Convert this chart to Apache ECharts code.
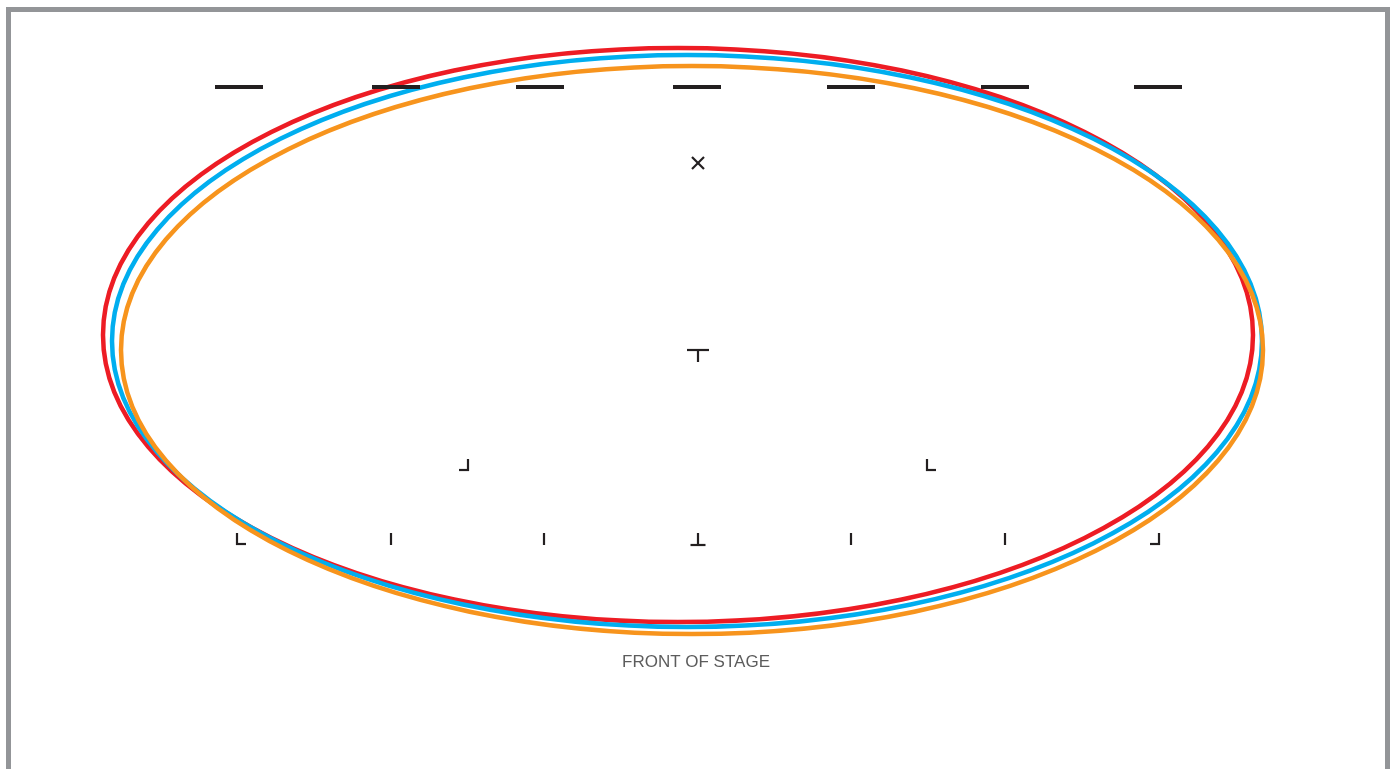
<!DOCTYPE html>
<html>
<head>
<meta charset="utf-8">
<script src="https://cdn.jsdelivr.net/npm/echarts@6/dist/echarts.min.js"></script>
<style>
  html, body { margin: 0; padding: 0; background: #fff; }
  #main { width: 1395px; height: 769px; }
</style>
</head>
<body>
<div id="main"></div>
<script>
// 舞台坐标（x 向右，y 向下）
var ringNames = ['red', 'blue', 'orange'];
var ringColors = ['#ed1c24', '#00aeef', '#f7941d'];
// 椭圆：中心 x, 中心 y, 半径 x, 半径 y
var ringCx = [678, 687, 692];
var ringCy = [335, 341, 350];
var ringRx = [575, 575, 571];
var ringRy = [287, 286, 284];

// 上方横线
var dashX = [239, 396, 540, 697, 851, 1005, 1158];
var dashY = [87, 87, 87, 87, 87, 87, 87];

// 其他标记
var markKinds = ['cross', 'tee', 'cornerR', 'cornerL', 'cornerL', 'tick', 'tick', 'teeUp', 'tick', 'tick', 'cornerR'];
var markX = [698, 698, 464, 931, 241, 391, 544, 698, 851, 1005, 1155];
var markY = [163, 355, 465, 465, 539, 539, 539, 539, 539, 539, 539];

var stageLabel = 'FRONT OF STAGE';
var stageLabelPos = [696, 662];

var myChart = echarts.init(document.getElementById('main'));

var ringData = ringNames.map(function (n, i) {
  return { name: n, value: [ringCx[i], ringCy[i], ringRx[i], ringRy[i]], itemStyle: { color: ringColors[i] } };
});
var dashData = dashX.map(function (x, i) { return ['dash', x, dashY[i]]; });
var markData = dashData.concat(markKinds.map(function (k, i) { return [k, markX[i], markY[i]]; }));

var ink = '#231f20';
function seg(x1, y1, x2, y2, w) {
  return { type: 'line', shape: { x1: x1, y1: y1, x2: x2, y2: y2 }, style: { stroke: ink, lineWidth: w } };
}

myChart.setOption({
  animation: false,
  // 外框
  graphic: [{
    type: 'rect', z: -1,
    shape: { x: 8.5, y: 9.5, width: 1379, height: 800 },
    style: { fill: '#fff', stroke: '#939598', lineWidth: 5 }
  }],
  grid: { left: 0, top: 0, right: 0, bottom: 0 },
  xAxis: { type: 'value', min: 0, max: 1395, show: false },
  yAxis: { type: 'value', min: 0, max: 769, inverse: true, show: false },
  series: [
    {
      type: 'custom',
      data: ringData,
      renderItem: function (params, api) {
        var c = api.coord([api.value(0), api.value(1)]);
        var s = api.size([api.value(2), api.value(3)]);
        return {
          type: 'ellipse',
          shape: { cx: c[0], cy: c[1], rx: s[0], ry: s[1] },
          style: { fill: 'none', stroke: api.visual('color'), lineWidth: 4.5 }
        };
      }
    },
    {
      type: 'custom',
      data: markData,
      encode: { x: 1, y: 2 },
      renderItem: function (params, api) {
        var kind = markData[params.dataIndex][0];
        var p = api.coord([api.value(1), api.value(2)]);
        var x = p[0], y = p[1];
        var ch = [];
        if (kind === 'dash') {
          ch.push(seg(x - 24, y, x + 24, y, 4));
        } else if (kind === 'cross') {
          ch.push(seg(x - 6, y - 6, x + 6, y + 6, 2.2));
          ch.push(seg(x - 6, y + 6, x + 6, y - 6, 2.2));
        } else if (kind === 'tee') {
          ch.push(seg(x - 11, y - 5, x + 11, y - 5, 2.2));
          ch.push(seg(x, y - 5, x, y + 7, 2.2));
        } else if (kind === 'teeUp') {
          ch.push(seg(x - 7.5, y + 6, x + 7.5, y + 6, 2.2));
          ch.push(seg(x, y - 6, x, y + 6, 2.2));
        } else if (kind === 'tick') {
          ch.push(seg(x, y - 6, x, y + 6, 2.2));
        } else if (kind === 'cornerL') {
          ch.push(seg(x - 4, y - 6, x - 4, y + 6, 2.2));
          ch.push(seg(x - 5, y + 5, x + 5, y + 5, 2.2));
        } else if (kind === 'cornerR') {
          ch.push(seg(x + 4, y - 6, x + 4, y + 6, 2.2));
          ch.push(seg(x + 5, y + 5, x - 5, y + 5, 2.2));
        }
        return { type: 'group', children: ch };
      }
    },
    {
      type: 'scatter',
      symbolSize: 0,
      data: [stageLabelPos],
      label: {
        show: true, position: 'inside', formatter: stageLabel,
        color: '#333', fontSize: 17, fontFamily: 'Liberation Sans, Arial, sans-serif'
      }
    }
  ]
});
</script>
</body>
</html>
